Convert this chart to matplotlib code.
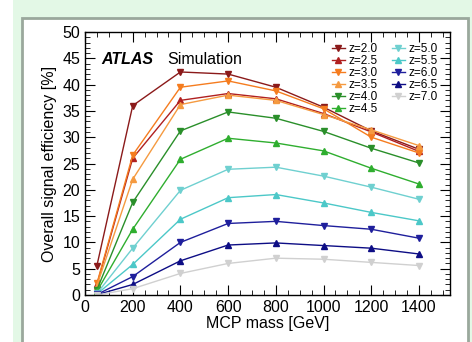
import numpy as np
import matplotlib.pyplot as plt
from matplotlib.patches import Rectangle
from matplotlib.ticker import MultipleLocator

plt.rcParams['font.family'] = ['Liberation Sans', 'DejaVu Sans']

# MCP masses [GeV]
mass = [50, 200, 400, 600, 800, 1000, 1200, 1400]

# efficiency [%] per charge z
eff_z20 = [5.6, 36.0, 42.4, 42.0, 39.5, 35.7, 31.2, 27.7]
eff_z25 = [2.0, 26.0, 37.0, 38.3, 37.3, 34.5, 31.0, 27.3]
eff_z30 = [2.2, 26.6, 39.5, 40.7, 38.8, 35.4, 30.0, 27.0]
eff_z35 = [1.8, 22.0, 36.2, 38.0, 37.0, 34.3, 31.4, 28.4]
eff_z40 = [1.0, 17.6, 31.2, 34.8, 33.6, 31.1, 27.9, 25.1]
eff_z45 = [0.7, 12.5, 25.8, 29.8, 28.9, 27.4, 24.1, 21.1]
eff_z50 = [0.3, 8.9, 19.9, 23.9, 24.3, 22.6, 20.5, 18.2]
eff_z55 = [0.2, 5.8, 14.4, 18.5, 19.1, 17.5, 15.7, 14.1]
eff_z60 = [0.1, 3.5, 10.0, 13.6, 14.0, 13.2, 12.5, 10.8]
eff_z65 = [0.05, 2.0, 6.5, 9.5, 9.9, 9.4, 8.9, 7.8]
eff_z70 = [0.0, 1.2, 4.1, 6.0, 7.0, 6.8, 6.2, 5.6]

series = [
    ('z=2.0', eff_z20, '#8b1a1a', 'v'),
    ('z=2.5', eff_z25, '#b02020', '^'),
    ('z=3.0', eff_z30, '#f57c1f', 'v'),
    ('z=3.5', eff_z35, '#f59a40', '^'),
    ('z=4.0', eff_z40, '#2a8f2a', 'v'),
    ('z=4.5', eff_z45, '#2fae2f', '^'),
    ('z=5.0', eff_z50, '#6fd0d0', 'v'),
    ('z=5.5', eff_z55, '#4cc8c8', '^'),
    ('z=6.0', eff_z60, '#1f1f9c', 'v'),
    ('z=6.5', eff_z65, '#0d0d85', '^'),
    ('z=7.0', eff_z70, '#d0d0d0', 'v'),
]

fig = plt.figure(figsize=(4.72, 3.42), dpi=100, facecolor='white')

# mint background and white framed panel
fig.patches.append(Rectangle((13 / 472, 0), 1, 1, transform=fig.transFigure,
                             facecolor='#e3f8e6', edgecolor='none', zorder=-3))
fig.patches.append(Rectangle((22 / 472, -0.02), 446 / 472, 1 - 18 / 342 + 0.02,
                             transform=fig.transFigure, facecolor='white',
                             edgecolor='#9aa89c', linewidth=2.0, zorder=-2))

ax = fig.add_axes([85 / 472, 47 / 342, 365 / 472, 263 / 342])

for label, vals, col, mk in series:
    ax.plot(mass, vals, color=col, marker=mk, markersize=5, linewidth=1.0,
            label=label)

ax.set_xlim(0, 1530)
ax.set_ylim(0, 50)
ax.xaxis.set_major_locator(MultipleLocator(200))
ax.xaxis.set_minor_locator(MultipleLocator(50))
ax.yaxis.set_major_locator(MultipleLocator(5))
ax.yaxis.set_minor_locator(MultipleLocator(1))
ax.tick_params(which='both', direction='in', top=True, right=True, labelsize=11.5)
ax.tick_params(which='major', length=7)
ax.tick_params(which='minor', length=3.5)
for s in ax.spines.values():
    s.set_linewidth(1.0)

ax.set_xlabel('MCP mass [GeV]', fontsize=11.5, labelpad=1)
ax.set_ylabel('Overall signal efficiency [%]', fontsize=11.5, labelpad=4)

ax.text(0.045, 0.925, 'ATLAS', transform=ax.transAxes, fontsize=11.5,
        fontweight='bold', fontstyle='italic', va='top')
ax.text(0.225, 0.925, 'Simulation', transform=ax.transAxes, fontsize=11.5,
        va='top')

ax.legend(ncol=2, loc='upper right', bbox_to_anchor=(0.985, 0.985),
          frameon=False, fontsize=8.5, handlelength=1.1, handletextpad=0.3,
          labelspacing=0.0, columnspacing=1.2, markerscale=0.8,
          borderaxespad=0.2)

fig.savefig('out.png', dpi=100)
